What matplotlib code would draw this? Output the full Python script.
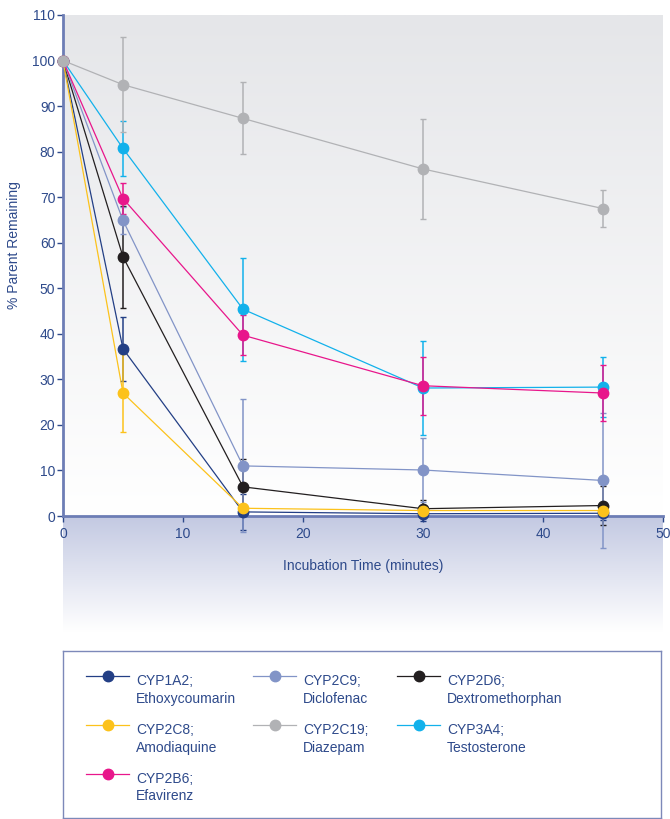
import numpy as np
import matplotlib.pyplot as plt
from matplotlib.colors import LinearSegmentedColormap
from matplotlib.legend_handler import HandlerLine2D

plt.rcParams['font.family'] = ['Liberation Sans', 'DejaVu Sans']

# incubation times (minutes)
time = [0, 5, 15, 30, 45]

# % parent remaining, mean and error for each isoform
cyp1a2 = [100, 36.7, 0.9, 0.5, 0.6]
cyp1a2_err = [0, 7.0, 4.0, 1.5, 1.5]
cyp2c9 = [100, 64.9, 11.0, 10.1, 7.8]
cyp2c9_err = [0, 3.0, 14.6, 7.0, 14.8]
cyp2d6 = [100, 56.9, 6.4, 1.6, 2.3]
cyp2d6_err = [0, 11.2, 6.1, 2.0, 4.2]
cyp2c8 = [100, 27.0, 1.7, 1.2, 1.2]
cyp2c8_err = [0, 8.5, 1.0, 1.0, 1.0]
cyp2c19 = [100, 94.7, 87.3, 76.2, 67.5]
cyp2c19_err = [0, 10.4, 7.9, 11.0, 4.1]
cyp3a4 = [100, 80.7, 45.4, 28.1, 28.3]
cyp3a4_err = [0, 6.0, 11.3, 10.4, 6.6]
cyp2b6 = [100, 69.7, 39.7, 28.6, 27.0]
cyp2b6_err = [0, 3.5, 4.4, 6.4, 6.1]

labels = {
    '1a2': 'CYP1A2;\nEthoxycoumarin',
    '2c9': 'CYP2C9;\nDiclofenac',
    '2d6': 'CYP2D6;\nDextromethorphan',
    '2c8': 'CYP2C8;\nAmodiaquine',
    '2c19': 'CYP2C19;\nDiazepam',
    '3a4': 'CYP3A4;\nTestosterone',
    '2b6': 'CYP2B6;\nEfavirenz',
}
colors = {
    '1a2': '#233f85', '2c9': '#8294c7', '2d6': '#231f20', '2c8': '#fcc21b',
    '2c19': '#b1b2b5', '3a4': '#12b1eb', '2b6': '#e8168b',
}
series = {
    '1a2': (cyp1a2, cyp1a2_err), '2d6': (cyp2d6, cyp2d6_err),
    '2c9': (cyp2c9, cyp2c9_err), '2c8': (cyp2c8, cyp2c8_err),
    '3a4': (cyp3a4, cyp3a4_err), '2b6': (cyp2b6, cyp2b6_err),
    '2c19': (cyp2c19, cyp2c19_err),
}

navy = '#2e4a8b'
spine = '#6d7db5'
W, H = 670, 819


class TopLineHandler(HandlerLine2D):
    # put the legend line level with the first line of a two-line label
    def create_artists(self, legend, orig_handle, xdescent, ydescent,
                       width, height, fontsize, trans):
        shift = 1.05 * fontsize
        return super().create_artists(legend, orig_handle, xdescent, ydescent - 2 * shift,
                                      width, height, fontsize, trans)


fig = plt.figure(figsize=(W / 100, H / 100), dpi=100)

# blue band under the x axis
band = fig.add_axes([63 / W, 1 - 632 / H, 600 / W, 116 / H])
band_cmap = LinearSegmentedColormap.from_list('band', ['#c3c9e2', '#ffffff'])
band.imshow(np.linspace(0, 1, 256).reshape(-1, 1), cmap=band_cmap, aspect='auto',
            extent=[0, 1, 0, 1])
band.axis('off')

ax = fig.add_axes([63 / W, 1 - 516 / H, 600 / W, 501 / H])
bg_cmap = LinearSegmentedColormap.from_list('bg', ['#e5e6e9', '#ffffff'])
ax.imshow(np.linspace(0, 1, 256).reshape(-1, 1), cmap=bg_cmap, aspect='auto',
          extent=[0, 50, 0, 110], origin='upper', zorder=0)
ax.set_facecolor('none')

handles = {}
for key, (vals, err) in series.items():
    eb = ax.errorbar(time, vals, yerr=err, color=colors[key], lw=0.9, elinewidth=1.1,
                     capsize=2.5, capthick=1, marker='o', ms=7.5, mec=colors[key],
                     label=labels[key], zorder=3)
    for art in eb.get_children():
        art.set_clip_on(False)
    handles[key] = eb.lines[0]

ax.set_xlim(0, 50)
ax.set_ylim(0, 110)
ax.set_xticks(range(0, 51, 10))
ax.set_yticks(range(0, 111, 10))
for s in ['top', 'right']:
    ax.spines[s].set_visible(False)
for s in ['left', 'bottom']:
    ax.spines[s].set_color(spine)
    ax.spines[s].set_linewidth(2)
ax.tick_params(colors=navy, labelsize=10, length=4, width=1)
ax.tick_params(axis='y', pad=1.5)
ax.tick_params(axis='x', pad=4)

ax.set_xlabel('Incubation Time (minutes)', color=navy, fontsize=10)
ax.xaxis.set_label_coords(0.5, -0.086)
ax.set_ylabel('% Parent Remaining', color=navy, fontsize=10)
ax.yaxis.set_label_coords(-0.07, 0.54)

# legend box
lax = fig.add_axes([63 / W, 1 / H, 598 / W, 167 / H])
lax.set_xticks([])
lax.set_yticks([])
lax.set_facecolor('white')
for s in lax.spines.values():
    s.set_color('#7d89b9')
    s.set_linewidth(1)

columns = [['1a2', '2c8', '2b6'], ['2c9', '2c19'], ['2d6', '3a4']]
col_x = [86, 253, 397]
for keys, x in zip(columns, col_x):
    leg = fig.legend([handles[k] for k in keys], [labels[k] for k in keys],
                     loc='upper left', bbox_to_anchor=(x / W, 1 - 674 / H),
                     frameon=False, fontsize=10, borderpad=0, borderaxespad=0,
                     handlelength=3.1, handletextpad=0.5, labelspacing=1.22,
                     handler_map={plt.Line2D: TopLineHandler()})
    for t in leg.get_texts():
        t.set_color(navy)
        t.set_linespacing(1.35)

fig.savefig('out.png', dpi=100)
